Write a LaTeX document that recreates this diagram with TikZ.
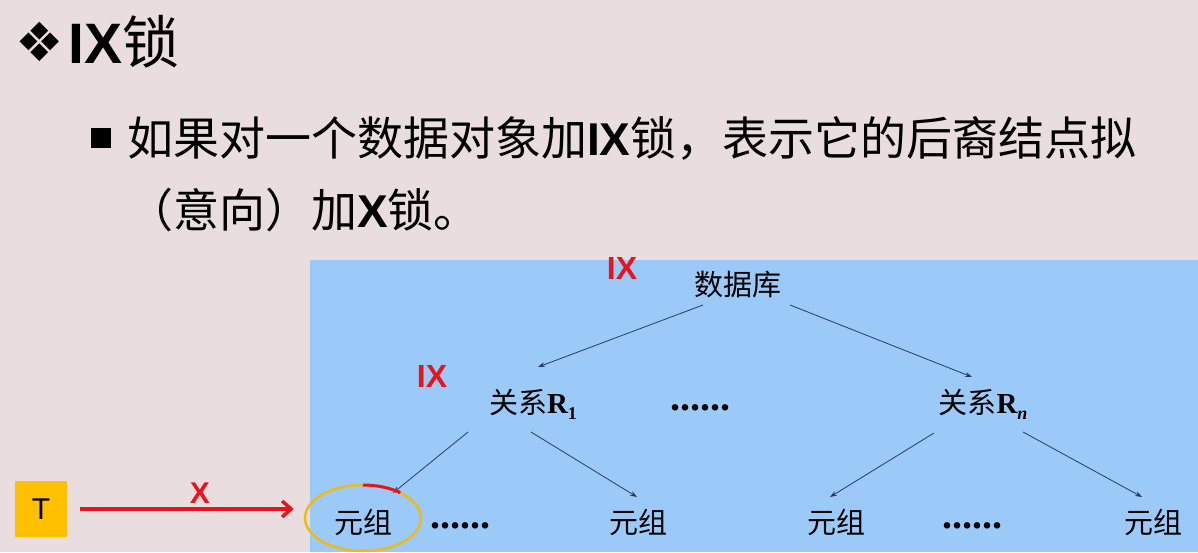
\documentclass[tikz,border=0pt]{standalone}
\usepackage{fontspec}
\setmainfont{Liberation Serif}
\newfontfamily\cjk{Noto Sans CJK SC}
\newfontfamily\arialfont{Liberation Sans}
\newfontfamily\symfont{DejaVu Sans}
\usetikzlibrary{arrows.meta,shapes.geometric}
\definecolor{slidebg}{RGB}{234,221,224}
\definecolor{boxblue}{RGB}{155,201,248}
\definecolor{lockred}{RGB}{232,20,28}
\definecolor{tyellow}{RGB}{255,192,0}
\definecolor{ringorange}{RGB}{240,185,20}
\definecolor{edgeblue}{RGB}{40,60,90}
\newcommand{\lowsub}[1]{\raisebox{-0.45ex}{\fontsize{18}{18}\selectfont #1}}

\begin{document}
\begin{tikzpicture}[x=1pt,y=1pt]
	\tikzstyle{tree}=[font=\fontsize{29}{29}\selectfont, inner sep=0pt]
	\tikzstyle{gap}=[font=\fontsize{40}{40}\selectfont\bfseries, inner sep=0pt]
	\tikzstyle{lock}=[text=lockred, font=\fontsize{32}{32}\selectfont\arialfont\bfseries, inner sep=0pt]
	\tikzstyle{link}=[draw=edgeblue, line width=0.8pt, -{Stealth[length=7pt,width=5pt]}]
	\fill[slidebg] (0,0) rectangle (1198,552);
	\useasboundingbox (0,0) rectangle (1198,552);
	% heading and bullet text
	\node[inner sep=0pt, font=\fontsize{54}{54}\selectfont\symfont](mark) at (40,510) {❖};
	\node[anchor=west, inner sep=0pt, font=\fontsize{57}{57}\selectfont](title) at (68,510) {{\arialfont\bfseries IX}{\cjk 锁}};
	\node[fill=black, minimum size=20pt, inner sep=0pt](bullet) at (101,414) {};
	\node[anchor=west, inner sep=0pt, font=\fontsize{46}{46}\selectfont](line1) at (127,414) {{\cjk 如果对一个数据对象加}{\arialfont\bfseries IX}{\cjk 锁，表示它的后裔结点拟}};
	\node[anchor=west, inner sep=0pt, font=\fontsize{46}{46}\selectfont](line2) at (127,342) {{\cjk （意向）加}{\arialfont\bfseries X}{\cjk 锁。}};
	% lock tree
	\fill[boxblue] (310,0) rectangle (1198,292);
	\node[tree](db) at (738,267) {\cjk 数据库};
	\node[tree](r1) at (533,148) {{\cjk 关系}\bfseries R\lowsub{1}};
	\node[tree](rn) at (983,148) {{\cjk 关系}\bfseries R\lowsub{\itshape n}};
	\node[gap](dotsa) at (700,144) {......};
	\node[tree](tup1) at (363,30) {\cjk 元组};
	\node[gap](dotsb) at (460,26) {......};
	\node[tree](tup2) at (638,30) {\cjk 元组};
	\node[tree](tup3) at (836,30) {\cjk 元组};
	\node[gap](dotsc) at (972,26) {......};
	\node[tree](tup4) at (1153,30) {\cjk 元组};
	\node[lock](ixdb) at (622,284) {IX};
	\node[lock](ixr) at (432,176) {IX};
	\draw[link] ([shift={(-35,-20)}]db.center) -- ([shift={(5,37)}]r1.center);
	\draw[link] ([shift={(52,-20)}]db.center) -- ([shift={(-11,27)}]rn.center);
	\draw[link] ([shift={(-65,-28)}]r1.center) -- ([shift={(30,29)}]tup1.center);
	\draw[link] ([shift={(-2,-28)}]r1.center) -- ([shift={(-1,25)}]tup2.center);
	\draw[link] ([shift={(-49,-29)}]rn.center) -- ([shift={(-6,25)}]tup3.center);
	\draw[link] ([shift={(40,-28)}]rn.center) -- ([shift={(-11,25)}]tup4.center);
	% transaction T
	\node[fill=tyellow, minimum width=52pt, minimum height=56pt, font=\fontsize{30}{30}\selectfont\arialfont](t) at (41,43) {T};
	\node[ellipse, draw=ringorange, line width=2.5pt, minimum width=116pt, minimum height=66pt, inner sep=0pt](ring) at (363,34) {};
	\draw[lockred, line width=3.5pt, -{Straight Barb[length=9pt,width=16pt]}, shorten <=13pt, shorten >=10pt] (t.east) -- (t.east -| ring.west);
	\node[lock, font=\fontsize{30}{30}\selectfont\arialfont\bfseries](xlab) at (200,59) {X};
	\draw[lockred, line width=3pt] ([shift={(50:58 and 33)}]ring.center) arc[start angle=50, end angle=90, x radius=58, y radius=33];
\end{tikzpicture}
\end{document}
